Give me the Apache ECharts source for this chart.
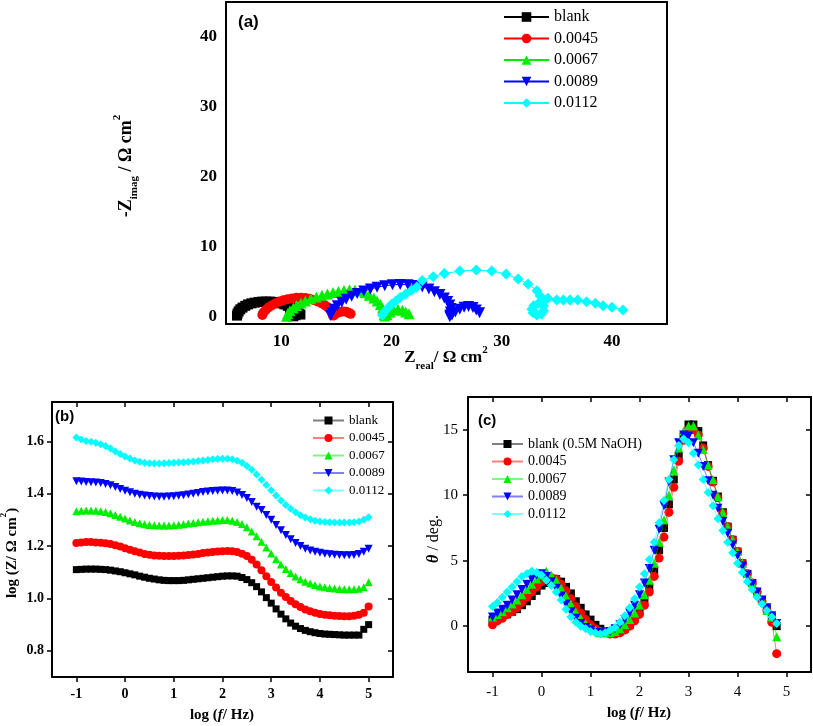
<!DOCTYPE html>
<html><head><meta charset="utf-8">
<script src="https://cdn.jsdelivr.net/npm/echarts@6.0.0/dist/echarts.min.js"></script>
</head>
<body style="margin:0;background:#fff">
<div id="c" style="width:813px;height:726px"></div>
<script>
// ---------- Panel (a): Nyquist ----------
const legendNames = ['blank', '0.0045', '0.0067', '0.0089', '0.0112'];
const phaseLegendNames = ['blank (0.5M NaOH)', '0.0045', '0.0067', '0.0089', '0.0112'];

const nyqBlankRe = [6.0,6.05,6.15,6.3,6.5,6.75,7.0,7.3,7.6,7.95,8.3,8.65,9.0,9.35,9.7,10.0,10.3,10.6,10.85,11.05,11.2,11.3,11.35,11.3,11.1,10.9,10.8,10.85,11.0,11.2,11.4,11.6,11.75];
const nyqBlankIm = [0.2,0.5,0.8,1.1,1.35,1.6,1.8,1.95,2.05,2.15,2.2,2.2,2.2,2.15,2.05,1.95,1.8,1.6,1.4,1.15,0.9,0.65,0.45,0.25,0.1,0.15,0.3,0.5,0.65,0.7,0.65,0.5,0.35];
const nyqC1Re = [8.3,8.4,8.6,8.85,9.15,9.5,9.85,10.2,10.6,11.0,11.4,11.8,12.2,12.6,13.0,13.35,13.7,14.0,14.25,14.45,14.6,14.65,14.7,14.8,15.0,15.3,15.6,15.9,16.1,16.3];
const nyqC1Im = [0.3,0.65,1.0,1.35,1.65,1.95,2.2,2.4,2.55,2.65,2.75,2.75,2.7,2.6,2.4,2.2,1.95,1.65,1.35,1.05,0.75,0.45,0.2,0.25,0.5,0.7,0.8,0.75,0.6,0.45];
const nyqC2Re = [10.5,10.6,10.8,11.1,11.4,11.8,12.2,12.7,13.2,13.7,14.2,14.7,15.2,15.7,16.2,16.7,17.2,17.6,18.0,18.4,18.7,19.0,19.2,19.3,19.35,19.4,19.6,19.9,20.2,20.6,21.0,21.3,21.6];
const nyqC2Im = [0.1,0.5,0.9,1.3,1.65,2.0,2.3,2.6,2.85,3.1,3.3,3.5,3.65,3.8,3.9,3.85,3.7,3.45,3.1,2.7,2.3,1.8,1.3,0.8,0.4,0.15,0.35,0.7,1.0,1.1,0.95,0.7,0.45];
const nyqC3Re = [14.5,14.6,14.8,15.1,15.5,15.9,16.4,16.9,17.5,18.1,18.7,19.4,20.1,20.8,21.5,22.2,22.8,23.4,23.9,24.4,24.8,25.1,25.3,25.4,25.35,25.3,25.3,25.5,25.8,26.2,26.6,27.0,27.4,27.7,28.0];
const nyqC3Im = [0.2,0.6,1.1,1.6,2.1,2.55,2.95,3.35,3.7,4.0,4.25,4.45,4.6,4.65,4.6,4.5,4.3,4.0,3.6,3.2,2.7,2.2,1.7,1.2,0.7,0.3,0.05,0.3,0.7,1.1,1.4,1.5,1.35,1.0,0.6];
const nyqC4Re = [19.2,19.4,19.7,20.0,20.4,20.8,21.3,21.8,22.3,22.8,23.8,24.8,26.2,27.7,29.1,30.4,31.5,32.4,33.2,33.5,33.7,33.8,33.8,33.6,33.2,32.85,32.75,32.9,33.3,33.7,34.2,35.0,35.6,36.2,36.9,37.7,38.5,39.2,40.0,41.0];
const nyqC4Im = [0.3,0.8,1.3,1.8,2.3,2.8,3.3,3.8,4.3,5.2,5.76,6.2,6.57,6.7,6.57,6.14,5.43,4.71,3.76,3.0,2.3,1.6,0.9,0.4,0.3,0.6,1.1,1.6,1.9,2.1,2.67,2.43,2.43,2.43,2.43,2.19,1.95,1.62,1.38,1.0];

// ---------- Panel (b): Bode modulus ----------
const bodeLogF = [-1.0,-0.9,-0.8,-0.7,-0.6,-0.5,-0.4,-0.3,-0.2,-0.1,0.0,0.1,0.2,0.3,0.4,0.5,0.6,0.7,0.8,0.9,1.0,1.1,1.2,1.3,1.4,1.5,1.6,1.7,1.8,1.9,2.0,2.1,2.2,2.3,2.4,2.5,2.6,2.7,2.8,2.9,3.0,3.1,3.2,3.3,3.4,3.5,3.6,3.7,3.8,3.9,4.0,4.1,4.2,4.3,4.4,4.5,4.6,4.7,4.8,4.9,5.0];
const logZBlank = [1.110,1.111,1.112,1.112,1.112,1.111,1.110,1.108,1.105,1.102,1.098,1.094,1.090,1.085,1.081,1.077,1.074,1.071,1.069,1.068,1.068,1.068,1.069,1.071,1.073,1.075,1.077,1.079,1.081,1.083,1.085,1.086,1.086,1.085,1.080,1.072,1.060,1.045,1.025,1.003,0.982,0.960,0.940,0.922,0.906,0.894,0.885,0.878,0.873,0.869,0.866,0.864,0.863,0.862,0.861,0.860,0.860,0.860,0.860,0.882,0.900];
const logZC1 = [1.212,1.214,1.215,1.215,1.214,1.213,1.211,1.208,1.203,1.198,1.192,1.186,1.180,1.175,1.170,1.167,1.164,1.163,1.162,1.162,1.162,1.163,1.164,1.166,1.168,1.170,1.173,1.175,1.177,1.179,1.180,1.181,1.180,1.177,1.171,1.162,1.148,1.130,1.108,1.085,1.063,1.042,1.022,1.005,0.990,0.978,0.967,0.958,0.951,0.945,0.941,0.938,0.936,0.934,0.933,0.932,0.932,0.934,0.938,0.945,0.969];
const logZC2 = [1.333,1.335,1.336,1.336,1.335,1.333,1.330,1.325,1.319,1.312,1.305,1.298,1.292,1.287,1.283,1.280,1.279,1.278,1.278,1.278,1.279,1.281,1.283,1.286,1.288,1.291,1.293,1.295,1.297,1.298,1.299,1.299,1.297,1.292,1.284,1.272,1.256,1.237,1.216,1.194,1.172,1.150,1.130,1.112,1.097,1.084,1.073,1.064,1.057,1.051,1.046,1.043,1.040,1.038,1.036,1.035,1.035,1.035,1.037,1.043,1.062];
const logZC3 = [1.447,1.446,1.445,1.444,1.443,1.441,1.437,1.432,1.425,1.418,1.411,1.405,1.400,1.396,1.393,1.391,1.389,1.388,1.388,1.389,1.390,1.392,1.394,1.397,1.400,1.403,1.406,1.408,1.410,1.411,1.412,1.412,1.410,1.404,1.395,1.383,1.368,1.350,1.338,1.319,1.300,1.280,1.260,1.242,1.226,1.212,1.200,1.190,1.183,1.178,1.174,1.171,1.169,1.167,1.166,1.165,1.165,1.166,1.170,1.178,1.190];
const logZC4 = [1.614,1.607,1.601,1.598,1.594,1.589,1.582,1.572,1.561,1.551,1.542,1.534,1.527,1.522,1.518,1.516,1.515,1.515,1.516,1.517,1.518,1.519,1.520,1.521,1.523,1.525,1.527,1.529,1.531,1.532,1.533,1.533,1.531,1.526,1.518,1.506,1.491,1.473,1.453,1.433,1.413,1.393,1.374,1.357,1.342,1.329,1.318,1.309,1.302,1.297,1.294,1.292,1.291,1.290,1.290,1.290,1.290,1.291,1.294,1.300,1.310];

// ---------- Panel (c): Bode phase ----------
const phaseLogF = [-1.0,-0.9,-0.8,-0.7,-0.6,-0.5,-0.4,-0.3,-0.2,-0.1,0.0,0.1,0.2,0.3,0.4,0.5,0.6,0.7,0.8,0.9,1.0,1.1,1.2,1.3,1.4,1.5,1.6,1.7,1.8,1.9,2.0,2.1,2.2,2.3,2.4,2.5,2.6,2.7,2.8,2.9,3.0,3.1,3.2,3.3,3.4,3.5,3.6,3.7,3.8,3.9,4.0,4.1,4.2,4.3,4.4,4.5,4.6,4.7,4.8];
const thetaBlank = [0.5,0.6,0.8,0.9,1.1,1.3,1.6,1.9,2.3,2.7,3.1,3.3,3.5,3.6,3.4,3.0,2.5,1.9,1.4,0.9,0.5,0.1,-0.2,-0.4,-0.5,-0.5,-0.4,-0.2,0.1,0.6,1.2,2.0,3.0,4.3,5.8,7.5,9.3,11.2,13.0,14.5,15.4,15.4,14.9,13.8,12.3,11.1,9.9,8.7,7.6,6.6,5.7,4.8,4.0,3.3,2.6,2.0,1.3,0.7,0.0];
const thetaC1 = [0.1,0.4,0.6,0.9,1.1,1.4,1.8,2.2,2.6,3.0,3.4,3.6,3.7,3.6,3.2,2.7,2.1,1.5,1.0,0.5,0.1,-0.2,-0.4,-0.5,-0.6,-0.6,-0.5,-0.3,0.0,0.4,0.9,1.6,2.6,3.8,5.2,6.8,8.7,10.6,12.6,14.2,15.0,15.0,14.6,13.6,12.2,11.0,9.8,8.6,7.6,6.6,5.7,4.8,4.0,3.3,2.6,1.9,1.2,0.3,-2.1];
const thetaC2 = [0.7,0.9,1.1,1.4,1.7,2.0,2.4,2.8,3.2,3.6,3.9,4.2,3.9,3.5,2.9,2.3,1.7,1.1,0.6,0.2,-0.1,-0.3,-0.5,-0.5,-0.5,-0.4,-0.2,0.1,0.5,1.0,1.6,2.4,3.5,4.8,6.4,8.1,10.0,11.9,13.6,14.9,15.3,15.3,14.6,13.5,12.3,11.2,9.9,8.7,7.6,6.6,5.7,4.8,4.0,3.3,2.6,2.0,1.2,0.7,-0.8];
const thetaC3 = [0.7,1.0,1.3,1.6,2.0,2.4,2.8,3.2,3.6,3.9,4.0,3.8,3.4,2.9,2.3,1.7,1.1,0.6,0.2,-0.1,-0.3,-0.5,-0.5,-0.5,-0.4,-0.2,0.1,0.5,1.0,1.6,2.4,3.3,4.4,5.8,7.4,9.2,11.0,12.7,14.0,14.6,14.5,14.0,13.2,12.2,11.1,10.0,9.0,8.0,7.1,6.2,5.4,4.6,3.9,3.2,2.6,2.0,1.4,0.8,0.2];
const thetaC4 = [1.5,1.8,2.2,2.6,3.0,3.4,3.8,4.0,4.2,4.1,3.9,3.5,3.1,2.6,2.0,1.3,0.7,0.3,0.0,-0.2,-0.4,-0.5,-0.6,-0.5,-0.3,-0.1,0.3,0.8,1.4,2.1,3.0,4.0,5.1,6.4,7.9,9.6,11.2,12.7,13.8,14.3,14.0,13.2,12.3,11.2,10.2,9.2,8.2,7.3,6.4,5.6,4.8,4.1,3.4,2.8,2.2,1.7,1.2,0.7,0.2];

// tick labels
const aXTicks = [10, 20, 30, 40];
const aYTicks = [0, 10, 20, 30, 40];
const bXTicks = [-1, 0, 1, 2, 3, 4, 5];
const bYTicks = [0.8, 1.0, 1.2, 1.4, 1.6];
const cXTicks = [-1, 0, 1, 2, 3, 4, 5];
const cYTicks = [0, 5, 10, 15];

const colors = ['#000000', '#ff0000', '#00ee00', '#0000ff', '#00ffff'];
const symbols = ['rect', 'circle', 'triangle', 'triangle', 'diamond'];
const rotates = [0, 0, 0, 180, 0];
const serif = '"Liberation Serif","Times New Roman",serif';
const sans = '"Liberation Sans",Arial,sans-serif';

function zip(a, b) { return a.map((v, i) => [v, b[i]]); }

const nyq = [[nyqBlankRe, nyqBlankIm], [nyqC1Re, nyqC1Im], [nyqC2Re, nyqC2Im], [nyqC3Re, nyqC3Im], [nyqC4Re, nyqC4Im]];
const bode = [logZBlank, logZC1, logZC2, logZC3, logZC4];
const phase = [thetaBlank, thetaC1, thetaC2, thetaC3, thetaC4];

const series = [];
const symSizeA = [10, 10, 11, 11, 11];
const symSizeB = [7, 8, 8, 8, 8];
const symSizeC = [8, 9, 9, 9, 9];
for (let i = 0; i < 5; i++) {
  series.push({ type: 'line', name: 'a_' + legendNames[i], xAxisIndex: 0, yAxisIndex: 0,
    data: zip(nyq[i][0], nyq[i][1]), symbol: symbols[i], symbolRotate: rotates[i], symbolSize: symSizeA[i],
    itemStyle: { color: colors[i] }, lineStyle: { color: colors[i], width: 1 }, animation: false, z: 2 + i });
}
for (let i = 0; i < 5; i++) {
  series.push({ type: 'line', name: 'b_' + legendNames[i], xAxisIndex: 2, yAxisIndex: 2,
    data: zip(bodeLogF, bode[i]), symbol: symbols[i], symbolRotate: rotates[i], symbolSize: symSizeB[i],
    itemStyle: { color: colors[i] }, lineStyle: { color: colors[i], width: 1, opacity: 0.5 }, animation: false, z: 2 + i });
}
for (let i = 0; i < 5; i++) {
  series.push({ type: 'line', name: 'c_' + phaseLegendNames[i], xAxisIndex: 4, yAxisIndex: 4,
    data: zip(phaseLogF, phase[i]), symbol: symbols[i], symbolRotate: rotates[i], symbolSize: symSizeC[i],
    itemStyle: { color: colors[i] }, lineStyle: { color: colors[i], width: 1, opacity: 0.5 }, animation: false, z: 2 + i });
}

const line2 = { show: true, onZero: false, lineStyle: { color: '#000', width: 2 } };
function ax(gridIndex, pos, min, max, o) {
  return Object.assign({ type: 'value', gridIndex, position: pos, min, max, axisLine: line2,
    splitLine: { show: false }, axisTick: { show: false }, axisLabel: { show: false } }, o || {});
}
const labA = (vals) => ({ show: true, customValues: vals, color: '#000', fontFamily: serif, fontWeight: 'bold', fontSize: 17, margin: 9 });
const labB = (vals, fmt, m) => ({ show: true, customValues: vals, color: '#000', fontFamily: serif, fontWeight: 'bold', fontSize: 14, margin: m, formatter: fmt });
const labC = (vals, m) => ({ show: true, customValues: vals, color: '#000', fontFamily: serif, fontSize: 15, margin: m });
const tick = (vals, inside) => ({ show: true, customValues: vals, inside: !!inside, length: 5, lineStyle: { color: '#000', width: 1.5 } });

const option = {
  backgroundColor: '#fff',
  animation: false,
  grid: [
    { left: 226, top: 2, width: 441, height: 322 },
    { left: 52, top: 402, width: 341, height: 275 },
    { left: 468, top: 397, width: 343, height: 275 }
  ],
  xAxis: [
    ax(0, 'bottom', 5, 45, { axisLabel: labA(aXTicks) }),
    ax(0, 'top', 5, 45),
    ax(1, 'bottom', -1.5, 5.5, { axisLabel: labB(bXTicks, undefined, 10), axisTick: tick(bXTicks) }),
    ax(1, 'top', -1.5, 5.5, { axisTick: tick(bXTicks, true) }),
    ax(2, 'bottom', -1.5, 5.5, { axisLabel: labC(cXTicks, 13), axisTick: tick(cXTicks) }),
    ax(2, 'top', -1.5, 5.5, { axisTick: tick(cXTicks, true) })
  ],
  yAxis: [
    ax(0, 'left', -1, 45, { axisLabel: labA(aYTicks) }),
    ax(0, 'right', -1, 45),
    ax(1, 'left', 0.7, 1.75, { axisLabel: labB(bYTicks, v => Number(v).toFixed(1), 8), axisTick: tick(bYTicks) }),
    ax(1, 'right', 0.7, 1.75, { axisTick: tick(bYTicks, true) }),
    ax(2, 'left', -3.5, 17.5, { axisLabel: labC(cYTicks, 10), axisTick: tick(cYTicks) }),
    ax(2, 'right', -3.5, 17.5, { axisTick: tick(cYTicks, true) })
  ],
  legend: [
    { orient: 'vertical', left: 503, top: 9, padding: 0, itemWidth: 45, itemHeight: 12, itemGap: 5.5,
      data: legendNames.map(n => 'a_' + n), formatter: n => n.slice(2),
      textStyle: { fontFamily: serif, fontSize: 16, color: '#000' }, selectedMode: false },
    { orient: 'vertical', left: 312, top: 414, padding: 0, itemWidth: 31, itemHeight: 10, itemGap: 4.5,
      data: legendNames.map(n => 'b_' + n), formatter: n => n.slice(2),
      textStyle: { fontFamily: serif, fontSize: 13, color: '#000' }, selectedMode: false },
    { orient: 'vertical', left: 491, top: 437, padding: 0, itemWidth: 31, itemHeight: 10, itemGap: 3.5,
      data: phaseLegendNames.map(n => 'c_' + n), formatter: n => n.slice(2),
      textStyle: { fontFamily: serif, fontSize: 14, color: '#000' }, selectedMode: false }
  ],
  series,
  graphic: []
};

function title(x, y, text, rich, rotation) {
  return { type: 'text', x, y, rotation: rotation || 0, silent: true,
    style: { text, rich, align: 'center', verticalAlign: 'middle', textAlign: 'center', textVerticalAlign: 'middle' } };
}
const richBold = (fs) => ({
  b: { fontFamily: serif, fontWeight: 'bold', fontSize: fs, lineHeight: fs + 10, fill: '#000' },
  bi: { fontFamily: serif, fontWeight: 'bold', fontStyle: 'italic', fontSize: fs, lineHeight: fs + 10, fill: '#000' },
  r: { fontFamily: serif, fontSize: fs, lineHeight: fs + 10, fill: '#000' },
  sub: { fontFamily: serif, fontWeight: 'bold', fontSize: Math.round(fs * 0.62), lineHeight: Math.round(fs * 0.62), verticalAlign: 'bottom', fill: '#000' },
  sup: { fontFamily: serif, fontWeight: 'bold', fontSize: Math.round(fs * 0.62), lineHeight: Math.round(fs * 0.62), verticalAlign: 'top', fill: '#000' }
});
option.graphic.push(
  title(446, 358, '{b|Z}{sub|real}{b|/ Ω cm}{sup|2}', richBold(17)),
  title(126, 166, '{b|-Z}{sub|imag}{b| / Ω cm}{sup|2}', richBold(18), Math.PI / 2),
  title(222, 715, '{b|log (}{bi|f}{b|/ Hz)}', richBold(15)),
  title(12, 553, '{b|log (Z/ Ω cm}{sup|2}{b|)}', richBold(15), Math.PI / 2),
  title(639, 713, '{b|log (}{bi|f}{b|/ Hz)}', richBold(15)),
  title(434, 539, '{bi|θ}{r| / deg.}', richBold(16), Math.PI / 2),
  { type: 'text', x: 238, y: 22, silent: true, style: { text: '(a)', font: 'bold 17px ' + sans, fill: '#000', verticalAlign: 'middle', textVerticalAlign: 'middle' } },
  { type: 'text', x: 55, y: 417, silent: true, style: { text: '(b)', font: 'bold 15px ' + sans, fill: '#000', verticalAlign: 'middle', textVerticalAlign: 'middle' } },
  { type: 'text', x: 478, y: 421, silent: true, style: { text: '(c)', font: 'bold 15px ' + sans, fill: '#000', verticalAlign: 'middle', textVerticalAlign: 'middle' } }
);

const chart = echarts.init(document.getElementById('c'), null, { renderer: 'canvas' });
chart.setOption(option);
</script>
</body></html>
